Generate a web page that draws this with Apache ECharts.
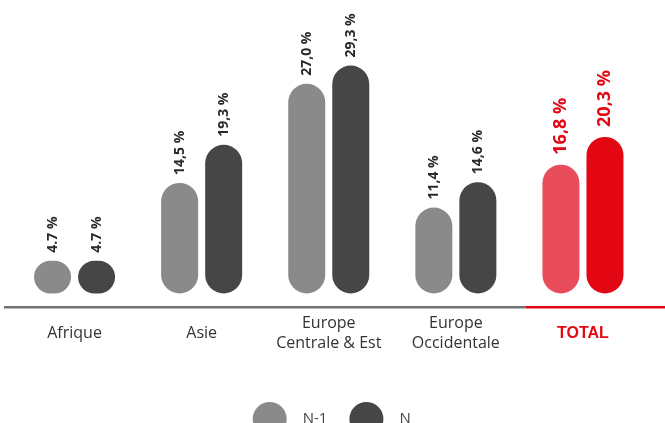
<!DOCTYPE html>
<html>
<head>
<meta charset="utf-8">
<script src="https://cdn.jsdelivr.net/npm/echarts@6/dist/echarts.min.js"></script>
<style>html,body{margin:0;padding:0;background:#fff}#c{width:665px;height:423px}</style>
</head>
<body>
<div id="c"></div>
<script>
const categories = ['Afrique', 'Asie', 'Europe\nCentrale & Est', 'Europe\nOccidentale', 'TOTAL'];
const seriesNames = ['N-1', 'N'];
const valuesN1 = [4.7, 14.5, 27.0, 11.4, 16.8];
const valuesN = [4.7, 19.3, 29.3, 14.6, 20.3];
const labelsN1 = ['4.7 %', '14,5 %', '27,0 %', '11,4 %', '16,8 %'];
const labelsN = ['4.7 %', '19,3 %', '29,3 %', '14,6 %', '20,3 %'];

const colN1 = '#8a8a8a', colN = '#464646';
const totN1 = '#e84c5a', totN = '#e30613';
const red = '#e30613';
const boldFont = '"Liberation Sans", Arial, sans-serif';
const textFont = '"Open Sans", sans-serif';

function buildData(vals, labels, totalColor) {
  return vals.map((v, i) => {
    const isTotal = categories[i] === 'TOTAL';
    const item = { value: v, labelText: labels[i] };
    if (isTotal) {
      item.itemStyle = { color: totalColor };
      item.label = { color: red, fontSize: 18, distance: 10 };
    }
    return item;
  });
}

const chart = echarts.init(document.getElementById('c'), null, { renderer: 'canvas' });
const labelCommon = {
  show: true,
  position: 'top',
  rotate: 90,
  align: 'left',
  verticalAlign: 'middle',
  distance: 8,
  fontFamily: textFont,
  fontWeight: 'bold',
  fontSize: 14,
  color: '#2a2a2a',
  formatter: p => p.data.labelText
};

chart.setOption({
  animation: false,
  grid: { left: 11, right: 18.5, top: 60, bottom: 129.5 },
  legend: {
    data: seriesNames,
    left: 252.7,
    top: 402,
    padding: 0,
    icon: 'circle',
    itemWidth: 34,
    itemHeight: 34,
    itemGap: 22,
    selectedMode: false,
    textStyle: { fontFamily: textFont, fontSize: 15, color: '#444', padding: [0, 0, 6, 11] }
  },
  xAxis: {
    type: 'category',
    data: categories.map(c => c === 'TOTAL'
      ? { value: c, textStyle: { color: red, fontWeight: 'bold', fontSize: 16, fontFamily: boldFont, verticalAlign: 'middle', lineHeight: 19.5 } }
      : c),
    axisLine: { show: false },
    axisTick: { show: false },
    axisLabel: {
      interval: 0,
      margin: 40,
      verticalAlign: 'middle',
      fontFamily: textFont,
      fontSize: 16,
      lineHeight: 19.5,
      color: '#333'
    }
  },
  yAxis: { type: 'value', show: false, min: 0.56, max: 30 },
  graphic: [
    { type: 'rect', shape: { x: 4, y: 306, width: 522, height: 2.5 }, style: { fill: '#737373' }, silent: true },
    { type: 'rect', shape: { x: 526, y: 306, width: 139, height: 2.5 }, style: { fill: red }, silent: true }
  ],
  series: [
    {
      name: seriesNames[0], type: 'bar', barWidth: 37, barGap: '19%',
      itemStyle: { color: colN1, borderRadius: 18.5 },
      label: labelCommon,
      data: buildData(valuesN1, labelsN1, totN1)
    },
    {
      name: seriesNames[1], type: 'bar', barWidth: 37, barGap: '19%',
      itemStyle: { color: colN, borderRadius: 18.5 },
      label: labelCommon,
      data: buildData(valuesN, labelsN, totN)
    }
  ]
});
</script>
</body>
</html>
